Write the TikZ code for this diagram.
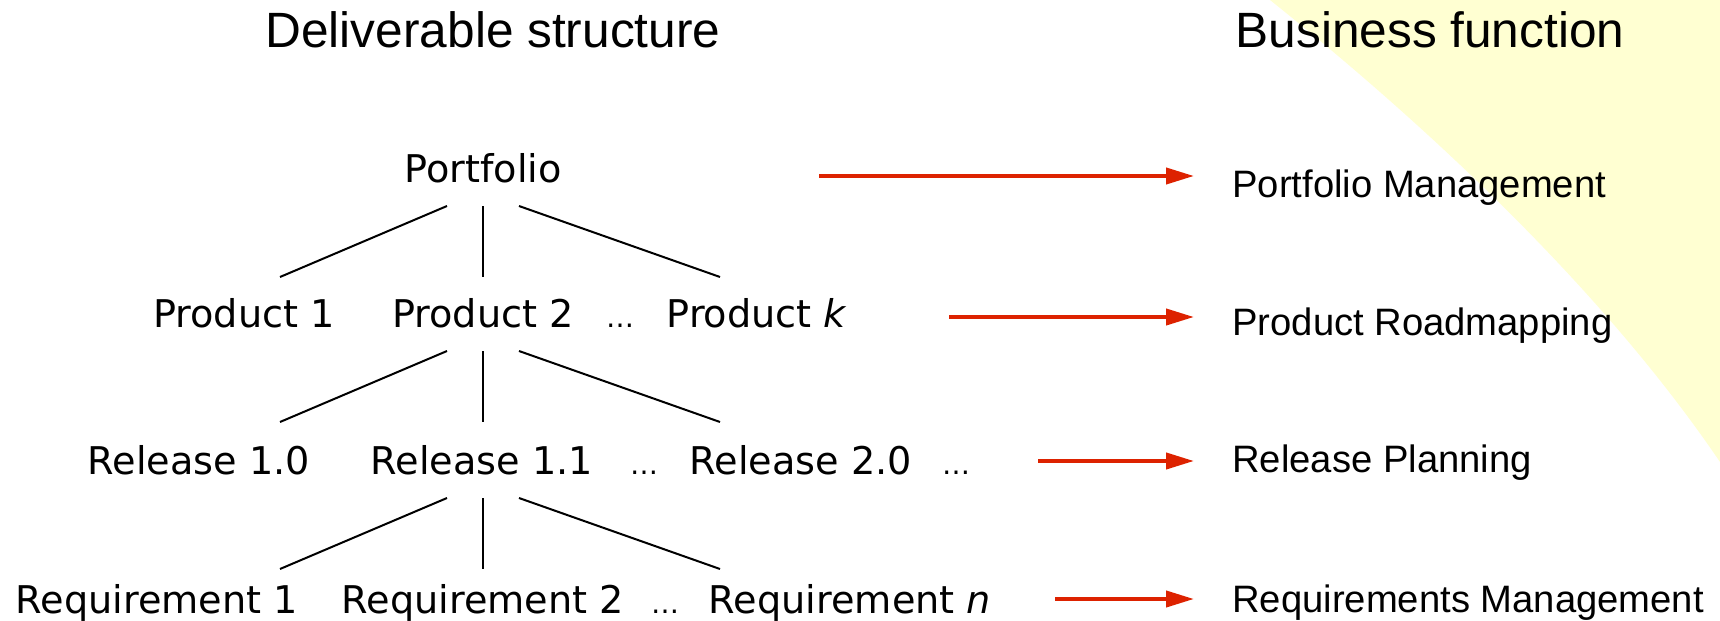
\documentclass[tikz,border=0pt]{standalone}
\usepackage{fontspec}
\setmainfont{DejaVu Sans}
\newfontfamily\arial{Liberation Sans}
\usetikzlibrary{arrows.meta}
\definecolor{bgyellow}{RGB}{255,255,210}
\definecolor{arrowred}{RGB}{221,34,0}
\tikzset{
  tree/.style={anchor=base,inner sep=0pt,font=\fontsize{19.1pt}{22pt}\selectfont},
  dots/.style={tree,font=\fontsize{14pt}{16pt}\selectfont},
  func/.style={anchor=base west,inner sep=0pt,font=\arial\fontsize{19.1pt}{22pt}\selectfont},
  head/.style={anchor=base,inner sep=0pt,font=\arial\fontsize{24.8pt}{28pt}\selectfont},
  maps/.style={arrowred,line width=2pt,shorten >=19pt,-{Triangle[length=14pt,width=8pt]}}
}
\begin{document}
\begin{tikzpicture}[x=0.5pt,y=-0.5pt]
\useasboundingbox (0,0) rectangle (1720,621);
\fill[bgyellow] (1270,0) .. controls (1420,120) and (1600,285) .. (1720,462) -- (1720,0) -- cycle;
\node[head] (H1) at (493,47) {Deliverable structure};
\node[head] (H2) at (1430,47) {Business function};
\node[tree] (A) at (483,182) {Portfolio};
\foreach \x/\n/\t in {244/1/Product 1,483/2/Product 2,757/k/Product \textit{k}} {
  \node[tree] (B\n) at (\x,327) {\t};
}
\foreach \x/\n/\t in {199/1/Release 1.0,482/2/Release 1.1,801/3/Release 2.0} {
  \node[tree] (C\n) at (\x,474) {\t};
}
\foreach \x/\n/\t in {157/1/Requirement 1,483/2/Requirement 2,850/n/Requirement \textit{n}} {
  \node[tree] (D\n) at (\x,613) {\t};
}
\node[dots] (Bd) at (620,327) {…};
\node[dots] (Cd) at (644,474) {…};
\node[dots] (Ce) at (956,474) {…};
\node[dots] (Dd) at (665,613) {…};
\foreach \u/\top in {1/206,2/351,3/498} {
  \foreach \x/\xx/\s in {447/280/l,483/483/m,519/720/r} {
    \coordinate (U\u\s) at (\x,\top);
    \coordinate (W\u\s) at (\xx,\top+71);
    \draw[line width=1pt] (U\u\s) -- (W\u\s);
  }
}
\foreach \i/\y/\t in {1/197/Portfolio Management,2/335/Product Roadmapping,3/472/Release Planning,4/612/Requirements Management} {
  \node[func] (F\i) at (1232,\y) {\t};
}
\foreach \i/\x/\y in {1/819/176,2/949/317,3/1038/461,4/1055/599} {
  \coordinate (S\i) at (\x,\y);
  \draw[maps] (S\i) -- (S\i -| F\i.west);
}
\end{tikzpicture}
\end{document}
